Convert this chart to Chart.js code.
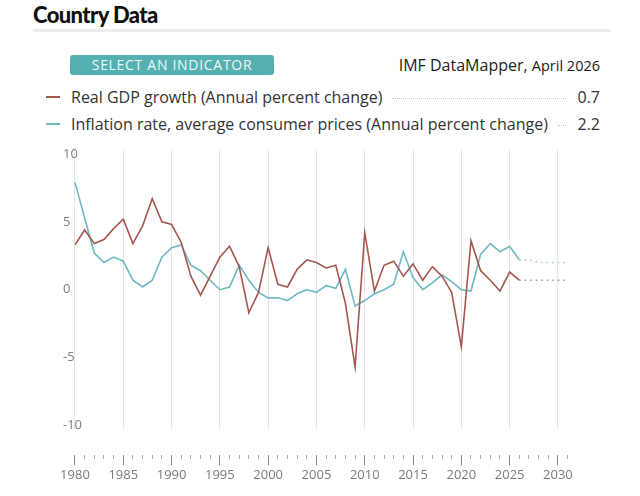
<!DOCTYPE html>
<html>
<head>
<meta charset="utf-8">
<title>Country Data</title>
<script src="https://cdn.jsdelivr.net/npm/chart.js@4.4.1/dist/chart.umd.min.js"></script>
<style>
  html, body { margin: 0; padding: 0; background: #fff; }
  body { width: 640px; height: 496px; position: relative; overflow: hidden; font-family: "Open Sans", sans-serif; color: #222; }
  #title { position: absolute; left: 33px; top: 1px; font-family: Lato, sans-serif; font-weight: 900; font-size: 22px; letter-spacing: -0.6px; color: #111; }
  #rule { position: absolute; left: 33px; top: 29px; width: 578px; height: 3px; background: #ececec; }
  #btn { position: absolute; left: 70px; top: 55px; width: 204px; height: 20px; background: #55b1b0; border-radius: 3px;
         color: #eef8f8; font-size: 14px; letter-spacing: 0.7px; text-align: center; line-height: 20px; }
  #source { position: absolute; right: 40px; top: 54px; font-size: 16px; color: #222; }
  #source small { font-size: 14.5px; }
  .row { position: absolute; left: 46px; width: 554px; display: flex; align-items: center; font-size: 16px; color: #333; }
  .sw { width: 14px; height: 2px; margin-right: 11px; flex: none; }
  .lead { flex: 1; border-bottom: 1px dotted #c8c8c8; margin: 0 12px 0 10px; height: 0; position: relative; top: 1px; }
  #chartBox { position: absolute; left: 0; top: 140px; width: 640px; height: 356px; }
</style>
</head>
<body>
<div id="title">Country Data</div>
<div id="rule"></div>
<div id="btn">SELECT AN INDICATOR</div>
<div id="source">IMF DataMapper, <small>April 2026</small></div>
<div id="legend"></div>
<div id="chartBox"><canvas id="chart"></canvas></div>
<script>
// Real GDP growth and inflation, 1980-2026
const years = [1980, 1981, 1982, 1983, 1984, 1985, 1986, 1987, 1988, 1989,
  1990, 1991, 1992, 1993, 1994, 1995, 1996, 1997, 1998, 1999,
  2000, 2001, 2002, 2003, 2004, 2005, 2006, 2007, 2008, 2009,
  2010, 2011, 2012, 2013, 2014, 2015, 2016, 2017, 2018, 2019,
  2020, 2021, 2022, 2023, 2024, 2025, 2026];

const gdpGrowth = [3.3, 4.4, 3.4, 3.7, 4.5, 5.2, 3.4, 4.7, 6.7, 5.0,
  4.8, 3.5, 1.0, -0.4, 1.0, 2.4, 3.2, 1.7, -1.7, -0.2,
  3.1, 0.4, 0.2, 1.5, 2.2, 2.0, 1.6, 1.8, -1.0, -5.7,
  4.2, -0.1, 1.8, 2.1, 1.0, 1.9, 0.7, 1.7, 1.0, -0.2,
  -4.2, 3.6, 1.4, 0.7, -0.1, 1.3, 0.7];

const inflation = [7.9, 5.3, 2.7, 2.0, 2.4, 2.1, 0.7, 0.2, 0.7, 2.4,
  3.1, 3.3, 1.8, 1.4, 0.7, 0.0, 0.2, 1.8, 0.7, -0.2,
  -0.6, -0.6, -0.8, -0.3, 0.0, -0.2, 0.3, 0.1, 1.5, -1.2,
  -0.8, -0.3, 0.0, 0.4, 2.8, 0.9, 0.0, 0.5, 1.1, 0.6,
  0.0, -0.1, 2.6, 3.4, 2.8, 3.2, 2.2];

// projections (dotted)
const projYears = [2026, 2027, 2028, 2029, 2030, 2031];
const gdpProj = [0.7, 0.7, 0.7, 0.7, 0.7, 0.7];
const inflProj = [2.2, 2.2, 2.0, 2.0, 2.0, 2.0];

const seriesNames = ['Real GDP growth (Annual percent change)',
  'Inflation rate, average consumer prices (Annual percent change)'];
const seriesValues = ['0.7', '2.2'];
const seriesColors = ['#a5564f', '#6fb9c1'];
const projColors = ['#bb8b88', '#a3cdd1'];

const yTicks = [-10, -5, 0, 5, 10];
const xLabels = ['1980', '1985', '1990', '1995', '2000', '2005', '2010', '2015', '2020', '2025', '2030'];
const xTickYears = Array.from({length: 52}, (_, i) => 1980 + i);

// legend rows
const legend = document.getElementById('legend');
seriesNames.forEach((name, i) => {
  const row = document.createElement('div');
  row.className = 'row';
  row.style.top = (86 + i * 27) + 'px';
  row.innerHTML = '<span class="sw" style="background:' + seriesColors[i] + '"></span>' +
    '<span>' + name + '</span><span class="lead"></span><span>' + seriesValues[i] + '</span>';
  legend.appendChild(row);
});

const pts = (xs, ys) => xs.map((x, i) => ({x: x, y: ys[i]}));
const isMajor = v => v % 5 === 0;
const xMin = 1978.76, xMax = 2031.25;

const ctx = document.getElementById('chart').getContext('2d');
const chart = new Chart(ctx, {
  type: 'line',
  data: {
    datasets: [
      { data: pts(years, gdpGrowth), borderColor: seriesColors[0], borderWidth: 1.6, xAxisID: 'x' },
      { data: pts(years, inflation), borderColor: seriesColors[1], borderWidth: 1.6, xAxisID: 'x' },
      { data: pts(projYears, gdpProj), borderColor: projColors[0], borderWidth: 1.6, borderDash: [1.5, 4], xAxisID: 'x' },
      { data: pts(projYears, inflProj), borderColor: projColors[1], borderWidth: 1.6, borderDash: [1.5, 4], xAxisID: 'x' }
    ]
  },
  options: {
    responsive: true,
    maintainAspectRatio: false,
    animation: false,
    elements: { point: { radius: 0 }, line: { tension: 0 } },
    layout: { padding: { left: 63, right: 70, top: 10, bottom: 11 } },
    plugins: { legend: { display: false }, tooltip: { enabled: false } },
    scales: {
      x: {
        type: 'linear',
        position: 'bottom',
        weight: 10,
        min: xMin,
        max: xMax,
        afterBuildTicks: scale => { scale.ticks = xTickYears.map(v => ({value: v})); },
        border: { display: false },
        grid: {
          color: c => isMajor(c.tick.value) ? '#e4e4e4' : 'rgba(0,0,0,0)',
          lineWidth: 1,
          drawTicks: true,
          tickLength: 10,
          tickWidth: 1,
          tickColor: c => isMajor(c.tick.value) ? '#8a8a8a' : '#a8a8a8',
          tickBorderDash: c => isMajor(c.tick.value) ? [] : [4, 20]
        },
        ticks: {
          autoSkip: false,
          maxRotation: 0,
          padding: 2,
          color: '#7a7a7a',
          font: { family: 'Open Sans', size: 13 },
          // empty string (not null) keeps the minor tick mark
          callback: v => isMajor(v) ? xLabels[(v - 1980) / 5] : ''
        }
      },
      // empty band between the plot and the tick row
      gap: {
        type: 'linear',
        axis: 'x',
        position: 'bottom',
        weight: 0,
        min: xMin,
        max: xMax,
        border: { display: false },
        grid: { drawOnChartArea: false, drawTicks: true, tickLength: 26, color: 'rgba(0,0,0,0)', tickColor: 'rgba(0,0,0,0)' },
        ticks: { display: false }
      },
      y: {
        min: -10.29,
        max: 10.29,
        afterBuildTicks: scale => { scale.ticks = yTicks.map(v => ({value: v})); },
        border: { display: false },
        grid: { display: false, drawTicks: false },
        ticks: {
          mirror: true,
          padding: 0,
          color: '#808080',
          font: { family: 'Open Sans', size: 13 }
        }
      }
    }
  }
});
</script>
</body>
</html>
